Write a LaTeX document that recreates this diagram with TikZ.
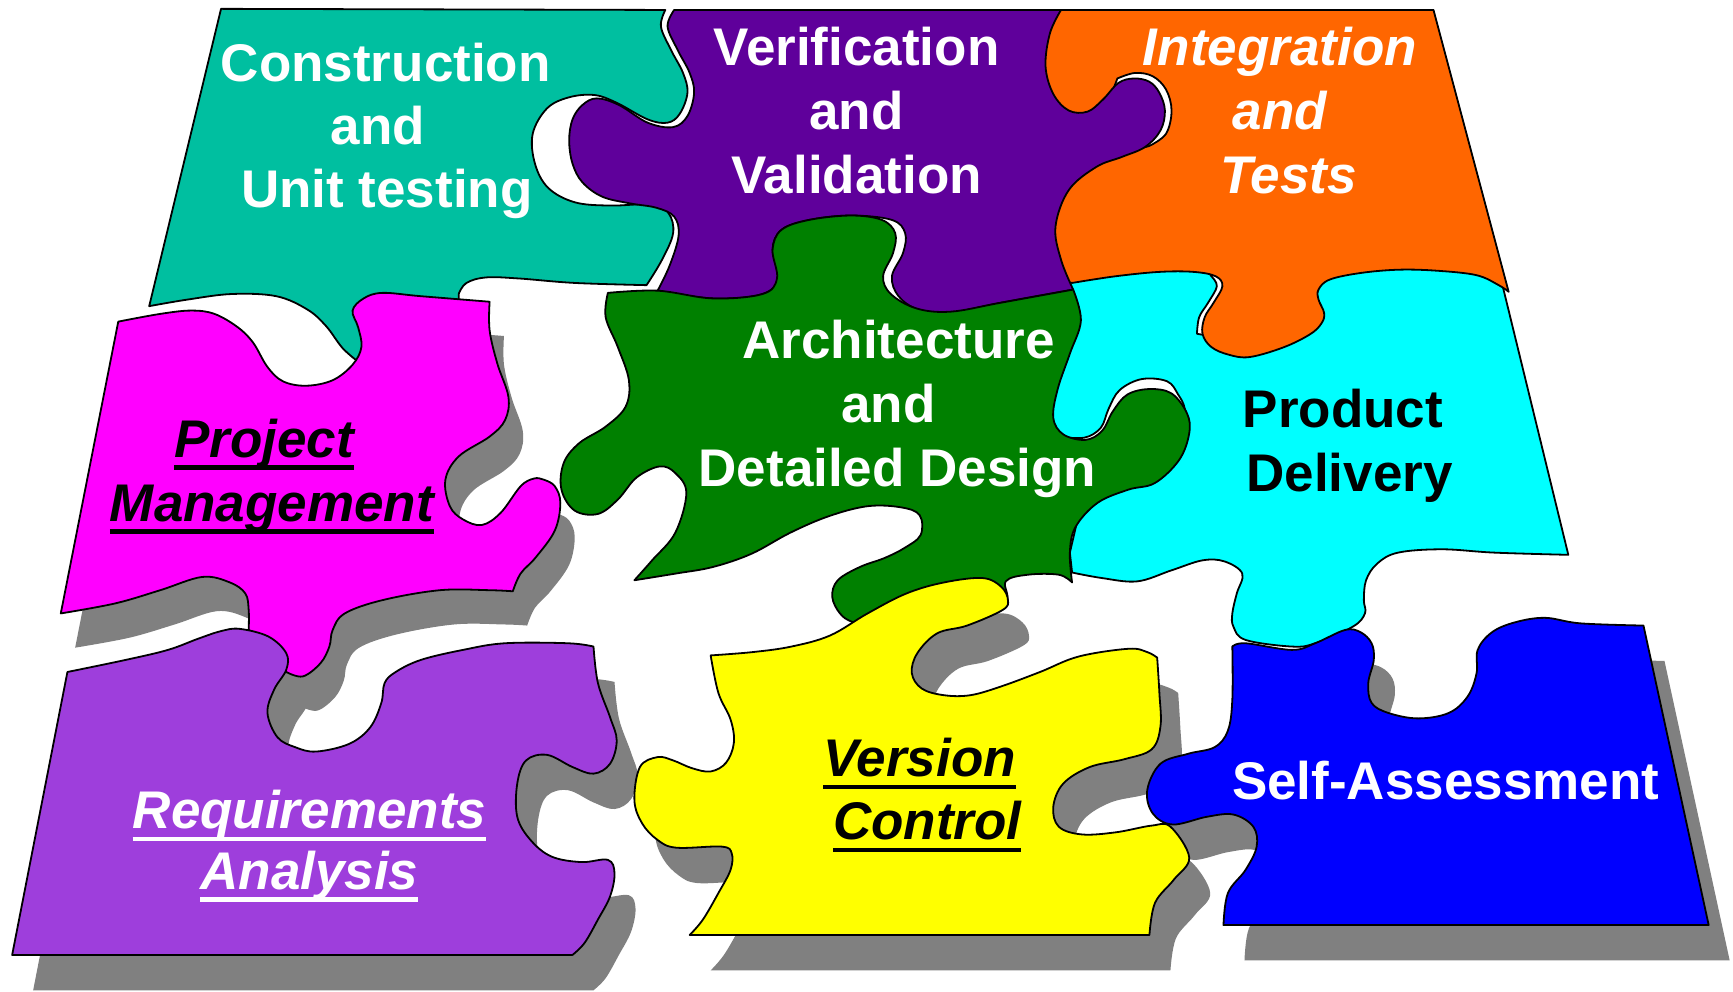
\documentclass[tikz,border=0pt]{standalone}
\usepackage{fontspec}
\setmainfont{Liberation Sans}
\newsavebox\ulbox
\newcommand\pzul[1]{\sbox\ulbox{#1}\rlap{\rule[-6pt]{\wd\ulbox}{2.2pt}}\usebox\ulbox}
\definecolor{cTeal}{RGB}{0,191,160}
\definecolor{cViolet}{RGB}{95,0,155}
\definecolor{cOrange}{RGB}{255,102,0}
\definecolor{cCyan}{RGB}{0,255,255}
\definecolor{cGreen}{RGB}{0,128,0}
\definecolor{cMag}{RGB}{255,0,255}
\definecolor{cLilac}{RGB}{158,62,220}
\definecolor{cYellow}{RGB}{255,255,0}
\definecolor{cBlue}{RGB}{0,0,255}
\definecolor{cShadow}{RGB}{128,128,128}

\def\pTeal{(200,8) -- (602,9) -- plot[smooth,tension=0.6] coordinates {(602,9) (598,24) (607,45) (618,66) (622,84) (615,103) (604,111) (586,108) (558,93) (538,86) (515,88) (495,98) (482,121) (484,148) (496,170) (520,183) (552,186) (590,185) (605,193) (609,211) (599,235) (585,258)} -- plot[smooth,tension=0.6] coordinates {(585,258) (520,256) (470,252) (440,251) (422,256) (415,266)} -- (415,272) -- (345,272) -- (330,300) -- (325,328) -- plot[smooth,tension=0.6] coordinates {(325,328) (310,315) (295,295) (278,280) (250,268) (210,266) (170,271) (135,277)} -- cycle}

\def\pViolet{(610,9) -- (960,9) -- plot[smooth,tension=0.6] coordinates {(960,9) (950,30) (946,60) (953,85) (967,100) (984,101) (998,90) (1012,75) (1026,71) (1040,74) (1049,84) (1054,100) (1050,118) (1036,133) (1015,142) (992,151) (967,172) (955,205) (960,235) (971,262)} -- plot[smooth,tension=0.6] coordinates {(971,262) (905,274) (860,283) (831,280) (813,268) (807,250) (817,229) (819,211) (807,199) (770,195) (732,199) (707,208) (699,226) (706,250) (690,266) (645,270) (595,263)} -- plot[smooth,tension=0.6] coordinates {(595,263) (606,240) (614,213) (610,196) (594,188) (570,184) (545,178) (527,165) (518,148) (515,127) (518,108) (527,95) (540,89) (560,95) (586,111) (609,115) (622,105) (628,84) (624,66) (613,45) (604,24) (610,9)} -- cycle}

\def\pOrange{(945,9) -- (1297,9) -- (1365,264) -- plot[smooth,tension=0.6] coordinates {(1365,264) (1356,258) (1336,249) (1301,245) (1266,244) (1231,247) (1203,253) (1193,262) (1193,271) (1198,283) (1196,292) (1186,302) (1162,314) (1131,323) (1112,321) (1096,314) (1088,302) (1090,287) (1098,274) (1106,259) (1100,250) (1080,246) (1049,246) (1009,250) (970,256)} -- (945,250) -- (945,160) -- (985,148) -- (1040,132) -- plot[smooth,tension=0.6] coordinates {(1040,132) (1055,121) (1060,100) (1055,81) (1043,69) (1027,66) (1011,71)} -- (1000,100) -- (975,110) -- (950,100) -- (940,60) -- cycle}

\def\pCyan{(950,240) -- (1090,240) -- (1096,250) -- plot[smooth,tension=0.6] coordinates {(1096,250) (1101,259) (1093,274) (1085,287) (1083,302)} -- (1100,305) -- (1150,300) -- (1180,280) -- (1185,240) -- (1355,240) -- (1419,502) -- plot[smooth,tension=0.6] coordinates {(1419,502) (1352,500) (1305,497) (1265,500) (1246,510) (1236,525) (1234,543) (1235,555) (1224,567) (1190,582) (1169,585) (1127,579) (1116,567) (1115,555) (1119,537) (1124,519) (1108,508) (1088,507) (1060,516) (1029,526) (997,523) (970,518)} -- (968,500) -- (975,470) -- (992,452) -- (1020,437) -- (1045,430) -- (1064,410) -- (1072,390) -- plot[smooth,tension=0.6] coordinates {(1072,390) (1072,370) (1066,357) (1056,345) (1033,343) (1013,353) (1003,370) (996,387) (981,396) (958,395)} -- (950,385) -- cycle}

\def\pGreen{(550,265) -- plot[smooth,tension=0.6] coordinates {(550,265) (595,263) (645,270) (690,266) (703,252) (699,226) (707,208) (732,199) (770,195) (798,199) (810,211) (808,229) (799,250) (806,266) (829,279) (860,282) (905,274) (971,262)} -- plot[smooth,tension=0.6] coordinates {(971,262) (978,290) (968,320) (957,352) (953,378) (962,393) (982,398) (997,390) (1007,372) (1020,357) (1040,352) (1060,356) (1074,374) (1076,392) (1067,416) (1045,437) (1021,443) (993,455) (973,477) (968,500) (970,527)} -- plot[smooth,tension=0.6] coordinates {(970,527) (958,520) (930,520) (910,526) (910,545) (880,560) (800,570) (772,563) (760,555) (753,540) (758,525) (778,513) (800,505) (818,496) (833,484) (832,466) (815,459) (785,458) (750,467) (715,482) (680,501) (645,513) (611,519) (574,525)} -- plot[smooth,tension=0.6] coordinates {(574,525) (590,507) (611,482) (621,446) (611,428) (597,422) (576,432) (559,452) (541,465) (520,462) (508,443) (510,419) (524,401) (548,386) (566,368) (569,344) (559,314) (548,287) (550,265)} -- cycle}

\def\pMag{(107,291) -- plot[smooth,tension=0.6] coordinates {(107,291) (145,284) (173,281) (194,284) (215,296) (229,310) (242,332) (256,345) (277,349) (301,344) (319,330) (327,314) (324,296) (319,281) (329,270) (346,265) (381,268) (443,273)} -- plot[smooth,tension=0.6] coordinates {(443,273) (443,299) (450,329) (460,359) (457,380) (443,395) (415,413) (403,434) (407,458) (419,470) (436,475) (453,464) (471,440) (483,433) (492,434) (502,440) (507,455) (502,480) (485,504) (471,519) (464,535)} -- plot[smooth,tension=0.6] coordinates {(464,535) (443,534) (398,534) (346,543) (312,555) (301,570) (298,585) (290,600) (274,612) (259,608)} -- (250,585) -- (225,570) -- plot[smooth,tension=0.6] coordinates {(225,570) (225,552) (222,537) (208,527) (183,522) (145,534) (104,546) (55,555)} -- cycle}

\def\pLilac{(61,608) -- plot[smooth,tension=0.6] coordinates {(61,608) (114,597) (152,588) (179,578) (200,571) (217,569) (243,576) (259,591) (259,606) (248,624) (242,645) (251,667) (267,676) (286,680) (316,673) (335,658) (345,636) (348,618) (358,608) (381,597) (419,588) (457,582) (514,582) (537,585)} -- plot[smooth,tension=0.6] coordinates {(537,585) (541,618) (552,649) (558,670) (552,691) (537,700) (518,694) (495,683) (476,688) (468,709) (468,739) (480,760) (499,775) (526,780) (550,778) (556,790) (552,811) (541,832) (529,853) (518,864)} -- (11,864) -- cycle}

\def\pYellow{(643,593) -- plot[smooth,tension=0.6] coordinates {(643,593) (681,590) (716,585) (751,575) (785,555) (820,537) (854,527) (889,523) (906,531) (912,543) (907,552) (875,566) (848,573) (830,591) (825,609) (834,623) (854,629) (878,629) (906,621) (941,608) (976,594) (1021,587) (1038,590) (1047,595)} -- plot[smooth,tension=0.6] coordinates {(1047,595) (1049,627) (1050,657) (1042,678) (1017,687) (986,694) (962,709) (953,730) (958,748) (979,755) (1010,753) (1042,747) (1059,748) (1076,776) (1062,796) (1045,817) (1040,846)} -- (624,846) -- plot[smooth,tension=0.6] coordinates {(624,846) (636,832) (650,808) (661,787) (662,772) (653,766) (612,767) (595,760) (581,745) (574,724) (579,694) (595,685) (609,688) (626,695) (643,698) (657,690) (664,672) (661,651) (650,627) (643,593)} -- cycle}

\def\pBlue{(1115,585) -- plot[smooth,tension=0.6] coordinates {(1115,585) (1127,582) (1169,588) (1190,582) (1217,570) (1231,572) (1241,582) (1243,597) (1238,618) (1241,636) (1256,645) (1283,650) (1311,645) (1328,630) (1336,609) (1337,588) (1350,572) (1371,563) (1398,559) (1430,564) (1487,566)} -- (1546,837) -- (1107,837) -- plot[smooth,tension=0.6] coordinates {(1107,837) (1111,808) (1127,787) (1137,766) (1134,748) (1116,737) (1092,739) (1061,746) (1043,736) (1038,715) (1050,691) (1075,682) (1099,676) (1111,661) (1115,633) (1115,585)} -- cycle}

\begin{document}
\begin{tikzpicture}[x=0.5526pt, y=-0.5526pt, line join=round,
  piece/.style={draw=black, line width=0.9pt},
  shade/.style={fill=cShadow},
  lbl/.style={anchor=base, inner sep=0pt, font=\fontsize{26.5pt}{31.5pt}\selectfont\bfseries},
  wlbl/.style={lbl, text=white},
  blbl/.style={lbl, text=black},
  wilbl/.style={lbl, text=white, font=\fontsize{26.5pt}{31.5pt}\selectfont\bfseries\itshape},
  bilbl/.style={lbl, text=black, font=\fontsize{26.5pt}{31.5pt}\selectfont\bfseries\itshape}]
\fill[white] (0,0) rectangle (1568,897);
\useasboundingbox (0,0) rectangle (1568,897);
% shadows
\fill[shade, shift={(13,31)}] \pMag;
\fill[shade, shift={(19,32)}] \pLilac;
\fill[shade, shift={(19,32)}] \pYellow;
\fill[shade, shift={(19,32)}] \pBlue;
% pieces
\filldraw[piece, fill=cTeal] \pTeal;
\filldraw[piece, fill=cCyan] \pCyan;
\filldraw[piece, fill=cOrange] \pOrange;
\filldraw[piece, fill=cViolet] \pViolet;
\filldraw[piece, fill=cGreen] \pGreen;
\filldraw[piece, fill=cMag] \pMag;
\filldraw[piece, fill=cLilac] \pLilac;
\filldraw[piece, fill=cYellow] \pYellow;
\filldraw[piece, fill=cBlue] \pBlue;
% texts
\node[wlbl] (cu1) at (349,74) {Construction};
\node[wlbl] (cu2) at (342,131) {and};
\node[wlbl] (cu3) at (350,188) {Unit testing};
\node[wlbl] (vv1) at (775,59) {Verification};
\node[wlbl] (vv2) at (775,117) {and};
\node[wlbl] (vv3) at (775,175) {Validation};
\node[wilbl] (it1) at (1158,59) {Integration};
\node[wilbl] (it2) at (1158,117) {and};
\node[wilbl] (it3) at (1166,175) {Tests};
\node[wlbl] (ad1) at (813,324) {Architecture};
\node[wlbl] (ad2) at (804,382) {and};
\node[wlbl] (ad3) at (812,440) {Detailed Design};
\node[blbl] (pd1) at (1215,387) {Product};
\node[blbl] (pd2) at (1221,445) {Delivery};
\node[bilbl] (pm1) at (239,414) {\pzul{Project}};
\node[bilbl] (pm2) at (246,472) {\pzul{Management}};
\node[wilbl] (ra1) at (280,750) {\pzul{Requirements}};
\node[wilbl] (ra2) at (280,805) {\pzul{Analysis}};
\node[bilbl] (vc1) at (832,703) {\pzul{Version}};
\node[bilbl] (vc2) at (839,760) {\pzul{Control}};
\node[wlbl] (sa1) at (1308,723) {Self-Assessment};
\end{tikzpicture}
\end{document}
